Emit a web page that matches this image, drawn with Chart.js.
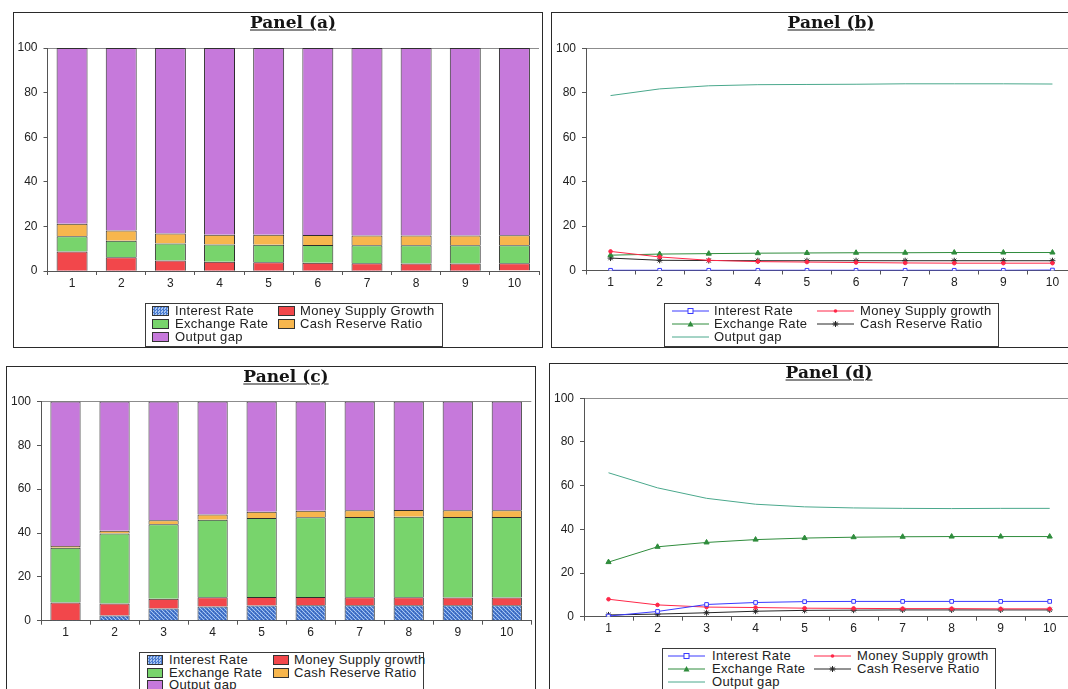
<!DOCTYPE html>
<html>
<head>
<meta charset="utf-8">
<script src="https://cdn.jsdelivr.net/npm/chart.js@4.4.1/dist/chart.umd.min.js"></script>
<style>
  html, body { margin: 0; padding: 0; background: #fff; overflow: hidden; width: 1068px; height: 689px; position: relative; }
  .frame { position: absolute; border: 1px solid #2a2a2a; box-sizing: border-box; }
  canvas { position: absolute; }
  .title { position: absolute; font: bold 17px "DejaVu Serif"; text-decoration: underline; text-underline-offset: 2px;
           transform: translate(-50%, -50%); white-space: nowrap; color: #141414; line-height: 1; }
  .legend { position: absolute; border: 1px solid #3a3a3a; background: #fff; box-sizing: border-box; }
  .item { position: absolute; font: 13px "Liberation Sans"; letter-spacing: 0.35px; color: #222; white-space: nowrap; line-height: 13px; }
  .sw { position: absolute; box-sizing: border-box; border: 1px solid #333; }
  .ls { position: absolute; overflow: visible; }
</style>
</head>
<body>

<div class="frame" style="left:13px; top:12px; width:530px; height:336px;"></div>
<div class="frame" style="left:551px; top:12px; width:540px; height:336px;"></div>
<div class="frame" style="left:6px; top:366px; width:530px; height:340px;"></div>
<div class="frame" style="left:549px; top:363px; width:540px; height:340px;"></div>

<canvas id="pa"></canvas>
<canvas id="pb"></canvas>
<canvas id="pc"></canvas>
<canvas id="pd"></canvas>

<div class="title" style="left:293px; top:22px;">Panel (a)</div>
<div class="title" style="left:831px; top:22px;">Panel (b)</div>
<div class="title" style="left:286px; top:376px;">Panel (c)</div>
<div class="title" style="left:829px; top:372px;">Panel (d)</div>

<script>
// Forecast horizons and the y-axis tick values
const periods = ['1', '2', '3', '4', '5', '6', '7', '8', '9', '10'];
const yTickValues = [0, 20, 40, 60, 80, 100];

// Variance decomposition, panels (a) and (b): share of each shock (%)
const interestRateAB = [0.1, 0.1, 0.1, 0.1, 0.1, 0.1, 0.1, 0.1, 0.1, 0.2];
const moneySupplyAB  = [8.6, 6.1, 4.6, 4.0, 3.8, 3.6, 3.4, 3.3, 3.3, 3.3];
const exchangeRateAB = [6.9, 7.4, 7.6, 7.8, 7.9, 8.0, 8.0, 8.1, 8.1, 8.1];
const cashReserveAB  = [5.6, 4.6, 4.5, 4.4, 4.4, 4.4, 4.4, 4.4, 4.4, 4.4];
const outputGapAB    = [78.8, 81.8, 83.2, 83.7, 83.8, 83.9, 84.1, 84.1, 84.1, 84.0];

// Variance decomposition, panels (c) and (d)
const interestRateCD = [0.3, 2.4, 5.6, 6.5, 6.9, 7.0, 7.0, 7.0, 7.0, 7.0];
const moneySupplyCD  = [8.0, 5.4, 4.4, 4.2, 3.9, 3.8, 3.7, 3.7, 3.6, 3.6];
const exchangeRateCD = [25.0, 32.0, 34.0, 35.3, 36.0, 36.4, 36.6, 36.7, 36.7, 36.7];
const cashReserveCD  = [0.8, 1.2, 1.8, 2.5, 2.9, 3.0, 3.1, 3.1, 3.1, 3.1];
const outputGapCD    = [65.9, 59.0, 54.2, 51.5, 50.3, 49.8, 49.6, 49.5, 49.6, 49.6];

const namesA = ['Interest Rate', 'Money Supply Growth', 'Exchange Rate', 'Cash Reserve Ratio', 'Output gap'];
const namesB = ['Interest Rate', 'Money Supply growth', 'Exchange Rate', 'Cash Reserve Ratio', 'Output gap'];

// Fill colours of the stacked bars
const barColors = { msg: '#f2474b', er: '#78d46c', crr: '#f7b64d', og: '#c679db' };
// Line and marker styles of the line panels
const lineStyles = [
  { color: '#3a3aff', marker: 'rect',     fill: '#ffffff', r: 2.6 },
  { color: '#ff2748', marker: 'circle',   fill: '#ff2748', r: 1.8 },
  { color: '#2f8c3c', marker: 'triangle', fill: '#2f8c3c', r: 3 },
  { color: '#262626', marker: 'star',     fill: '#262626', r: 3 },
  { color: '#4aa88c', marker: false,      fill: '#4aa88c', r: 0 }
];

// Cross-hatched blue fill for the interest-rate bars
function hatchPattern() {
  const t = document.createElement('canvas');
  t.width = 4; t.height = 4;
  const g = t.getContext('2d');
  g.fillStyle = '#4a7bd0'; g.fillRect(0, 0, 4, 4);
  g.fillStyle = '#a9c6ef';
  g.fillRect(0, 0, 1, 1); g.fillRect(2, 2, 1, 1);
  g.fillRect(1, 1, 1, 1); g.fillRect(3, 3, 1, 1);
  g.fillStyle = '#355fb2';
  g.fillRect(2, 0, 1, 1); g.fillRect(0, 2, 1, 1);
  return g.createPattern(t, 'repeat');
}

const tickFont = { family: 'Liberation Sans', size: 12 };

function scales(plot, cv, stacked) {
  return {
    x: {
      type: 'category', offset: true, stacked: stacked,
      grid: { display: true, offset: true, drawOnChartArea: false, drawTicks: true, tickLength: 4, color: '#555', lineWidth: 1 },
      border: { display: true, color: '#555' },
      ticks: { color: '#222', font: tickFont, padding: 1, maxRotation: 0, autoSkip: false },
      afterFit(s) { s.height = cv.y + cv.h - plot.b; }
    },
    y: {
      min: 0, max: 100, stacked: stacked,
      afterBuildTicks(s) { s.ticks = yTickValues.map(v => ({ value: v })); },
      grid: {
        drawTicks: true, tickLength: 4, tickColor: '#555', lineWidth: 1,
        color: (ctx) => (ctx.tick && ctx.tick.value === 100) ? '#8c8c8c' : 'rgba(0,0,0,0)'
      },
      border: { display: true, color: '#555' },
      ticks: { color: '#222', font: tickFont, padding: 6 },
      afterFit(s) { s.width = plot.l - cv.x; }
    }
  };
}

function baseOptions(plot, cv, stacked) {
  return {
    responsive: false, animation: false, devicePixelRatio: 1,
    layout: { padding: { left: 0, bottom: 0, top: plot.t - cv.y, right: cv.x + cv.w - plot.r } },
    plugins: { legend: { display: false }, title: { display: false }, tooltip: { enabled: false } },
    scales: scales(plot, cv, stacked)
  };
}

function setupCanvas(id, cv) {
  const c = document.getElementById(id);
  c.width = cv.w; c.height = cv.h;
  c.style.left = cv.x + 'px'; c.style.top = cv.y + 'px';
  c.style.width = cv.w + 'px'; c.style.height = cv.h + 'px';
  return c;
}

function stackedChart(id, cv, plot, series, names, barPct) {
  const fills = [hatchPattern(), barColors.msg, barColors.er, barColors.crr, barColors.og];
  const c = setupCanvas(id, cv);
  new Chart(c, {
    type: 'bar',
    data: {
      labels: periods,
      datasets: series.map((d, i) => ({
        label: names[i], data: d, backgroundColor: fills[i],
        borderColor: '#2e2e2e', borderWidth: 1, borderSkipped: 'start',
        barPercentage: barPct, categoryPercentage: 1
      }))
    },
    options: baseOptions(plot, cv, true)
  });
}

function lineChart(id, cv, plot, series, names) {
  const c = setupCanvas(id, cv);
  new Chart(c, {
    type: 'line',
    data: {
      labels: periods,
      datasets: series.map((d, i) => {
        const st = lineStyles[i];
        return {
          label: names[i], data: d, borderColor: st.color, borderWidth: 1, tension: 0,
          pointStyle: st.marker, pointRadius: st.r, pointBorderColor: st.color,
          pointBackgroundColor: st.fill, pointBorderWidth: 1, fill: false
        };
      })
    },
    options: baseOptions(plot, cv, false)
  });
}

// Legend boxes: two columns, three rows
function markerSvg(st, len) {
  const m = len / 2, y = 5;
  let mk = '';
  if (st.marker === 'rect') mk = `<rect x="${m - 2.5}" y="${y - 2.5}" width="5" height="5" fill="#fff" stroke="${st.color}" stroke-width="1"/>`;
  else if (st.marker === 'circle') mk = `<circle cx="${m}" cy="${y}" r="1.8" fill="${st.color}"/>`;
  else if (st.marker === 'triangle') mk = `<polygon points="${m},${y - 3} ${m + 3},${y + 2.5} ${m - 3},${y + 2.5}" fill="${st.color}"/>`;
  else if (st.marker === 'star') mk = `<path d="M${m - 3} ${y}H${m + 3}M${m} ${y - 3}V${y + 3}M${m - 2.2} ${y - 2.2}L${m + 2.2} ${y + 2.2}M${m + 2.2} ${y - 2.2}L${m - 2.2} ${y + 2.2}" stroke="${st.color}" stroke-width="1"/>`;
  return `<svg class="ls" width="${len}" height="10" viewBox="0 0 ${len} 10"><line x1="0" y1="${y}" x2="${len}" y2="${y}" stroke="${st.color}" stroke-width="1"/>${mk}</svg>`;
}

function legend(box, names, kind) {
  const el = document.createElement('div');
  el.className = 'legend';
  Object.assign(el.style, { left: box.x + 'px', top: box.y + 'px', width: box.w + 'px', height: box.h + 'px' });
  document.body.appendChild(el);
  const slots = [[0, 0], [0, 1], [1, 0], [1, 1], [2, 0]];
  const swatchCss = [
    'background: repeating-conic-gradient(#4a7bd0 0 25%, #a9c6ef 0 50%) 0 0/3px 3px;',
    `background:${barColors.msg};`, `background:${barColors.er};`,
    `background:${barColors.crr};`, `background:${barColors.og};`
  ];
  names.forEach((name, i) => {
    const [r, c] = slots[i];
    const col = box.cols[c];
    const cy = box.rows[r];
    if (kind === 'bar') {
      const s = document.createElement('div');
      s.className = 'sw';
      s.style.cssText = `left:${col.sx}px; top:${cy - 5}px; width:${col.sw}px; height:10px; ${swatchCss[i]}`;
      document.body.appendChild(s);
    } else {
      const wrap = document.createElement('div');
      wrap.style.cssText = `position:absolute; left:${col.sx}px; top:${cy - 5}px; width:${col.sw}px; height:10px;`;
      wrap.innerHTML = markerSvg(lineStyles[i], col.sw);
      document.body.appendChild(wrap);
    }
    const t = document.createElement('div');
    t.className = 'item';
    t.textContent = name;
    t.style.left = col.tx + 'px';
    t.style.top = (cy - 7) + 'px';
    document.body.appendChild(t);
  });
}

const seriesAB = [interestRateAB, moneySupplyAB, exchangeRateAB, cashReserveAB, outputGapAB];
const seriesCD = [interestRateCD, moneySupplyCD, exchangeRateCD, cashReserveCD, outputGapCD];

// Panel (a)
stackedChart('pa', { x: 14, y: 13, w: 528, h: 290 }, { l: 47.5, t: 48, r: 539, b: 271 }, seriesAB, namesA, 0.63);
// Panel (b)
lineChart('pb', { x: 553, y: 13, w: 537, h: 290 }, { l: 586, t: 48.5, r: 1077, b: 270.5 }, seriesAB, namesB);
// Panel (c)
stackedChart('pc', { x: 7, y: 367, w: 527, h: 283 }, { l: 41, t: 401.5, r: 531.3, b: 620.7 }, seriesCD, namesB, 0.616);
// Panel (d)
lineChart('pd', { x: 551, y: 364, w: 539, h: 282 }, { l: 584, t: 398.3, r: 1074.2, b: 616.7 }, seriesCD, namesB);

legend({ x: 145, y: 303, w: 298, h: 44, rows: [310.7, 323.5, 336.5],
         cols: [{ sx: 152, sw: 17, tx: 175 }, { sx: 278, sw: 17, tx: 300 }] }, namesA, 'bar');
legend({ x: 664, y: 303, w: 335, h: 44, rows: [310.7, 323.5, 336.5],
         cols: [{ sx: 672, sw: 37, tx: 714 }, { sx: 817, sw: 37, tx: 860 }] }, namesB, 'line');
legend({ x: 139, y: 652, w: 285, h: 50, rows: [660, 672.7, 685],
         cols: [{ sx: 147, sw: 16, tx: 169 }, { sx: 273, sw: 16, tx: 294 }] }, namesB, 'bar');
legend({ x: 662, y: 648, w: 334, h: 50, rows: [656, 669, 681.7],
         cols: [{ sx: 668, sw: 37, tx: 712 }, { sx: 814, sw: 37, tx: 857 }] }, namesB, 'line');
</script>
</body>
</html>
